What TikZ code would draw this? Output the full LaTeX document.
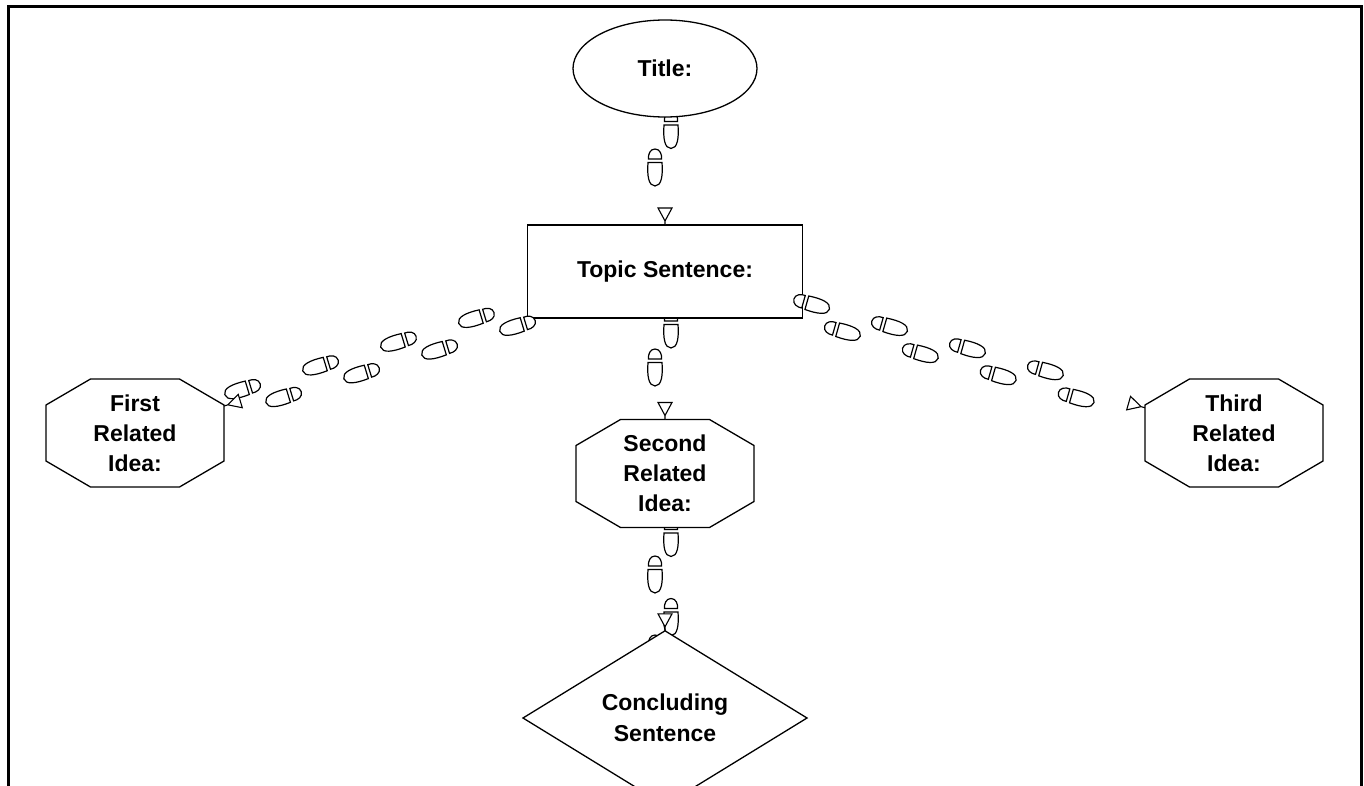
\documentclass[tikz,border=0pt]{standalone}
\usepackage{fontspec}
\setmainfont{Liberation Sans}
\usetikzlibrary{shapes.geometric,decorations.markings}
\pgfdeclarelayer{feetlow}
\pgfdeclarelayer{boxlayer}
\pgfdeclarelayer{feethigh}
\pgfdeclarelayer{shapelayer}
\pgfsetlayers{feetlow,boxlayer,feethigh,shapelayer,main}

% One shoe print (heel + sole), toes along +x, centred on the origin,
% moved sideways by #1 (positive = walker's left side).
\newcommand{\shoeprint}[1]{%
  \begin{scope}[shift={(0pt,#1)}]
    \draw[shoeline] (-8.5pt,-6.5pt) -- (-8.5pt,6.5pt)
        .. controls (-13pt,7pt) and (-18.5pt,5pt) .. (-18.5pt,0pt)
        .. controls (-18.5pt,-5pt) and (-13pt,-7pt) .. (-8.5pt,-6.5pt) -- cycle;
    \draw[shoeline] (-5pt,-7pt) -- (-5pt,7pt)
        .. controls (8pt,8pt) and (18.5pt,6.5pt) .. (18.5pt,0pt)
        .. controls (18.5pt,-6.5pt) and (8pt,-8pt) .. (-5pt,-7pt) -- cycle;
  \end{scope}}

% Octagon outline around a (rectangular, undrawn) node
\newcommand{\octagonat}[1]{%
  \draw[nodeline] ([xshift=44.5pt]#1.north west) -- ([xshift=-44.5pt]#1.north east)
    -- ([yshift=-26pt]#1.north east) -- ([yshift=26pt]#1.south east)
    -- ([xshift=-44.5pt]#1.south east) -- ([xshift=44.5pt]#1.south west)
    -- ([yshift=26pt]#1.south west) -- ([yshift=-26pt]#1.north west) -- cycle;}

\tikzset{
  shoeline/.style={draw=black, line width=1.2pt, fill=white},
  tipline/.style={draw=black, line width=1.1pt, fill=white},
  % footsteps along a connector:
  % left-foot start, right-foot start, last position, stride, left offset, right offset
  walk/.style n args={6}{postaction={decorate,decoration={markings,
      mark=between positions #1 and #3 step #4 with {\shoeprint{#5}},
      mark=between positions #2 and #3 step #4 with {\shoeprint{#6}}}}},
  % open triangle head with a short stem, ending on the target boundary
  tipend/.style={postaction={decorate,decoration={markings,
      mark=at position 1 with {\draw[tipline] (0pt,0pt) -- (-4pt,0pt)
          -- (-17pt,7pt) -- (-17pt,-7pt) -- (-4pt,0pt);}}}},
  nodeline/.style={draw=black, line width=1.3pt, fill=white},
  label/.style={font=\fontsize{23}{30}\selectfont\bfseries, align=center,
      inner sep=0pt, outer sep=0pt},
  octbox/.style={label, rectangle, minimum width=178pt, minimum height=108pt},
}

\begin{document}
\begin{tikzpicture}[x=1pt,y=-1pt]
\useasboundingbox (0,0) rectangle (1364,786);

% page frame, open at the bottom
\draw[line width=3pt] (8.5,786) -- (8.5,6.5) -- (1361.5,6.5) -- (1361.5,786);

\node[label, nodeline, ellipse, minimum width=184pt, minimum height=97pt]
  (title) at (665,68.5) {Title:};
\begin{pgfonlayer}{boxlayer}
\node[label, nodeline, rectangle, minimum width=275pt, minimum height=93pt]
  (topic) at (665,271.5) {Topic Sentence:};
\end{pgfonlayer}
\node[octbox] (first)  at (135,433)    {First\\Related\\Idea:};
\node[octbox] (second) at (665,473.5)  {Second\\Related\\Idea:};
\node[octbox] (third)  at (1234,433)   {Third\\Related\\Idea:};
\begin{pgfonlayer}{shapelayer}
\octagonat{first}
\octagonat{second}
\octagonat{third}
\end{pgfonlayer}
\node[label, nodeline, diamond, minimum width=284pt, minimum height=142pt,
      font=\fontsize{23}{31}\selectfont\bfseries]
  (concl) at (665,718) {Concluding\\Sentence};

% footsteps between the nodes
\begin{pgfonlayer}{feetlow}
\path[walk={61.5pt}{99pt}{110pt}{81pt}{6pt}{-10pt}]   (title.center)  -- (topic.center);
\path[walk={58pt}{96pt}{110pt}{81pt}{6pt}{-10pt}]     (topic.center)  -- (second.center);
\path[walk={64.5pt}{101pt}{190pt}{79pt}{6pt}{-10pt}]  (second.center) -- (concl.center);
\end{pgfonlayer}
\begin{pgfonlayer}{feethigh}
\path[walk={157pt}{194pt}{445pt}{81.5pt}{9pt}{-10.5pt}] (topic.center) -- (first.center);
\path[walk={150pt}{187pt}{435pt}{81pt}{8.7pt}{-8.9pt}]  (topic.center) -- (third.center);
\end{pgfonlayer}

% arrow heads
\path[tipend] (title)  -- (topic);
\path[tipend] (topic)  -- (second);
\path[tipend] (second) -- (concl);
\path[tipend] (topic)  -- (first);
\path[tipend] (topic)  -- (third);
\end{tikzpicture}
\end{document}
